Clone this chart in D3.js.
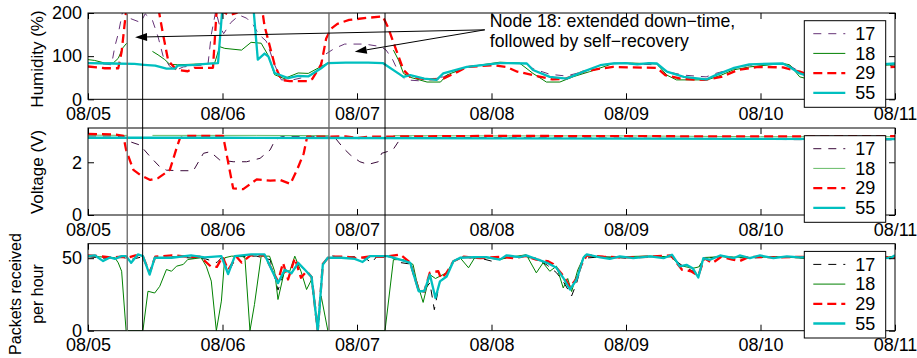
<!DOCTYPE html>
<html>
<head>
<meta charset="utf-8">
<script src="https://cdnjs.cloudflare.com/ajax/libs/d3/7.8.5/d3.min.js"></script>
<style>
  body { margin: 0; background: #fff; }
  svg { display: block; font-family: "Liberation Sans", Arial, sans-serif; }
</style>
</head>
<body>
<svg id="chart" width="917" height="358"></svg>
<script>
// time is in hours since 08/05 00:00
var dayTicks = [0, 24, 48, 72, 96, 120, 144];
var dayLabels = ["08/05", "08/06", "08/07", "08/08", "08/09", "08/10", "08/11"];
var nodeNames = ["17", "18", "29", "55"];
var downTimes = [[7, 9.75], [43, 53]];   // node 18 outages (start, end)

// humidity (%) -- values above 200 run off the top of the axis
var hum17 = [[0,84],[2,83],[4.2,80],[4.8,123],[5.4,152],[6.2,205],[7,195],[7.6,187],[9.4,178],[10.2,198],[11.5,183],[12.5,145],[13.4,100],[14.6,76],[15.8,68],[17,75],[19,78],[21.4,80],[22,150],[22.8,205],[23.5,170],[24.2,152],[25.5,178],[27,195],[28.3,188],[29.5,172],[30.5,150],[31.8,135],[32.5,110],[33.3,80],[34.5,45],[36.5,45],[39.3,53],[41,68],[42.2,103],[44,118],[45.8,128],[49.4,128],[52.3,122],[53.2,114],[54.4,91],[55.5,60],[56.7,45],[59,43],[63.4,52],[67.6,75],[73.5,83],[78.3,83],[79.4,71],[82.4,58],[85.3,54],[88.4,64],[91.4,79],[93.7,84],[97,82],[101.5,80],[103.3,64],[106.3,56],[110.3,52],[112,60],[115.1,71],[118,79],[124,83],[125.2,78],[127,64],[130,55],[134,50],[137,58],[140,72],[144,80]];
var hum18 = [[0,92],[1.2,90],[3,84],[4.5,84],[5.4,95],[6.2,119],[6.9,130],[7,null],[11.4,null],[11.5,111],[12.5,103],[13.7,92],[14.6,81],[16,80],[18,81],[20,82],[22.6,84],[23.5,122],[24.4,118],[27.4,114],[29.1,132],[30.9,130],[32.1,103],[33.3,57],[35,48],[37.5,61],[39.3,60],[41.6,76],[42.8,84],[43,null],[54.4,null],[54.5,114],[55.4,91],[56.3,60],[57.5,51],[60.5,40],[62.9,40],[64,56],[67.6,75],[73.5,86],[77,84],[79.4,60],[81.8,40],[84.2,40],[86.5,52],[89.5,64],[93.7,83],[97,84],[101.5,82],[103.3,56],[105,45],[110.5,45],[113,56],[115.1,68],[118,75],[124,83],[125.2,80],[127,52],[130,42],[134,44],[137,60],[140,78],[144,80]];
var hum29 = [[0,76],[3,72],[5.4,72],[6,110],[6.5,170],[6.9,215],[12.5,215],[13.4,150],[14.3,90],[15.8,68],[17.8,65],[19,73],[22.3,73],[23,215],[24.5,200],[25.3,195],[26.5,200],[27.5,215],[31,215],[31.5,170],[33.3,80],[34.5,45],[36,42],[39.3,42],[40,47],[41.6,80],[42.5,141],[43.4,164],[44.5,175],[46.6,184],[50,189],[52.6,192],[53.5,168],[55,114],[56.3,68],[57.5,52],[60.5,46],[63.4,48],[66,64],[67.6,75],[72.3,79],[74.7,75],[76.6,64],[79.4,56],[82.9,46],[85.3,48],[88.4,64],[91.4,71],[93.7,75],[97,74],[101.5,73],[103,56],[106,47],[110,45],[113,52],[116,68],[119.6,75],[124,74],[127,64],[130,50],[134,48],[137,60],[140,72],[144,75]];
var hum55 = [[0,84],[4,83],[8.3,82],[10,80],[12,78],[14,71],[15.5,71],[16,78],[19,80],[21,82],[23.2,84],[24,215],[29.5,215],[30.3,92],[31.5,106],[32.2,99],[33.3,61],[35.7,49],[37.5,54],[39.3,53],[41.6,72],[42.8,84],[46,85],[50,85],[52.6,84],[56.3,52],[57.5,56],[60,48],[62.2,45],[63.4,60],[67.6,75],[73.5,84],[78.3,83],[79.4,68],[82.4,52],[85.4,48],[88.4,64],[91.4,79],[93.7,83],[96,84],[98,81],[100,84],[101.5,83],[103.3,64],[106.3,52],[110.3,46],[112,56],[115.1,72],[118,81],[124,83],[125.2,75],[127,60],[130,48],[134,46],[137,60],[140,80],[144,83]];

// battery voltage (V)
var volt17 = [[0,3.0],[4,3.0],[6.5,2.95],[7.5,2.78],[9.3,2.65],[11.1,2.21],[12.8,1.83],[14,1.7],[16.4,1.68],[18.8,1.68],[20.6,2.34],[21.8,2.4],[23.5,2.09],[25.9,2.02],[28.3,2.02],[30.7,2.15],[32.5,2.47],[33.4,2.85],[34.5,2.97],[40,2.97],[44,2.95],[45.6,2.53],[46.8,2.28],[48.5,2.02],[50,1.92],[51.8,2.02],[52.4,2.34],[54.4,2.47],[55.6,2.85],[57,2.95],[70,2.93],[90,2.92],[110,2.9],[125,2.86],[144,2.85]];
var volt18 = [[0,3.03],[7,3.02],[7.1,null],[11.4,null],[11.5,3.02],[30,3.02],[43,3.01],[43.1,null],[54.4,null],[54.5,3.01],[72,3.0],[96,3.0],[120,2.97],[144,2.97]];
var volt29 = [[0,3.08],[5,3.05],[6.3,3.0],[6.8,2.47],[8.1,1.71],[9.3,1.52],[11.1,1.33],[12.5,1.4],[14.6,1.71],[15.8,2.53],[16.4,2.91],[17.6,3.0],[24.1,3.0],[24.7,2.34],[25.9,1.01],[27.7,0.98],[30.1,1.35],[32.5,1.3],[34.3,1.33],[36.1,1.18],[37.3,1.71],[38.5,2.34],[39.1,2.97],[46,2.98],[48.2,2.92],[50,2.97],[72,3.0],[96,2.99],[120,2.98],[144,2.99]];
var volt55 = [[0,2.93],[24,2.93],[48,2.92],[72,2.91],[96,2.9],[120,2.89],[144,2.88]];

// packets received per hour
var pkt17 = [[0,51],[3,50],[6,51],[7.5,49],[9.8,51],[11,40],[12,50],[15,51],[19,50],[21,49.5],[23,47],[24,51],[25,40],[26.5,51],[30,51.5],[32.5,49],[33.9,28],[35,40],[36.3,40],[37.5,46],[38.7,42],[39.9,37],[41,0],[41.9,46],[43,52],[45,50.5],[47.5,51],[49.5,50],[50.6,46.8],[51.5,51],[54,51],[55.7,47],[57.5,46],[59,27],[60,28],[61,33],[61.8,14.5],[62.8,34],[64,39],[65.2,48],[67,50.5],[70,50],[72,48],[73.5,49.5],[76,51],[78,50.5],[80,50],[82,45],[83.6,40],[84.8,34],[86.3,24],[87.2,33],[88.4,50],[92,51],[96,50],[100,51],[104,51],[106,45],[107.5,42],[108.5,40],[110,50],[113,51],[118,50],[123,51],[128,50],[134,51],[140,50],[144,51]];
var pkt18 = [[0,51.4],[2,51],[4.8,50.3],[5.4,46.8],[6,41],[6.8,0],[9.8,0],[10.7,27.2],[11.9,26],[12.8,30.6],[14,42.2],[14.9,41],[15.8,44.5],[17,45.7],[17.8,49.1],[20.2,50.3],[21.1,44.5],[22,34.2],[22.9,0],[23.8,20.4],[24.4,50.3],[25.6,51.4],[27.4,51.4],[28,50.3],[28.9,0],[29.7,18],[30.9,51.4],[32.4,51.4],[33.3,41],[33.9,21.5],[35.1,42],[36,41],[36.9,51.4],[38,41],[39,28.4],[39.9,35.3],[41,0],[41.6,24],[42.8,0],[53,0],[54.5,49],[56.3,49],[58,45.7],[58.6,35],[59.8,19.5],[61,38.7],[62,36],[64,40],[65.2,47.9],[66.4,50.3],[67.9,43.4],[69,50.3],[71.1,50.3],[73.5,49],[74.7,50.3],[78.2,52.4],[80,39.9],[81.2,46.8],[82.4,41],[83.6,44.5],[84.8,29.5],[85.6,36],[86.3,27],[87.4,42],[88.6,52],[91.4,50.5],[95,51],[100,51.5],[104,51],[105.6,45],[107.9,43],[109,44],[110,50.5],[113,51],[118,50.5],[123,51],[128,50],[134,51],[140,50.5],[144,51]];
var pkt29 = [[0,52],[2,51.4],[4,50.5],[6,51],[7.1,50.3],[8.5,52],[9.8,51],[11,40],[12,51],[15,52],[18,51],[20,51],[22,44],[23,44],[24,51],[25,42],[26.5,51],[27.4,47],[29,52],[31.5,52],[33.9,34],[34.8,46.8],[35.7,35.3],[36.9,50],[38,36.5],[39,41],[39.9,37],[41,0],[41.9,46],[43,51],[46,51],[48,50],[50,51],[53,51],[55.7,52.6],[57.5,47],[59,28],[60,27],[61,40],[62.5,41],[63,36],[64,40],[65.2,47.9],[67,51],[70,50],[73.5,51],[76,50],[78,51.5],[80,49],[82,48],[83,46],[84.8,38],[86,30],[87.2,36],[88,45],[89,52],[92,51],[96,50.5],[100,51],[104,52],[106,42],[107.6,41],[108.9,38],[110,50],[111.4,46.6],[113,51],[115,49],[116.3,48],[118,51],[123,50.5],[128,51],[134,50],[140,51],[144,50.5]];
var pkt55 = [[0,51.4],[1.2,52],[2.7,48],[3.9,50.5],[4.8,49.5],[6,51.4],[6.8,51.4],[7.7,46.8],[8.9,52.6],[9.8,51.4],[11,38.7],[11.9,50.3],[14.9,50.3],[18.4,52],[20.8,50.5],[23.8,51.4],[25,39],[26.2,51.4],[29.1,52.6],[31.5,52.6],[33.9,32.8],[35.1,42],[36.3,39.6],[37.5,46.8],[38.7,42],[39.9,37],[41,0],[41.9,45.6],[42.8,50.3],[45.2,50.3],[47.6,49.5],[49,47.4],[50.3,51.4],[53.5,51.4],[55.7,49],[57.5,46.8],[59,27.2],[60,27.2],[61,38.7],[62,22.6],[62.8,34],[64,37.4],[65.2,47.9],[66.4,50.3],[68.8,50.8],[71.1,50.8],[73.5,49],[74.7,52],[77,50.8],[78.2,52],[79.4,50.3],[81.9,46.8],[83.6,43.4],[84.8,36.5],[86,28.4],[87.2,35.3],[88.4,50.3],[89,52.6],[91.4,50.5],[93.1,49.6],[94.9,51.2],[97.3,50],[100.3,51.2],[102.7,50],[104.2,52.4],[105.6,44.3],[106.8,45.4],[107.9,43.1],[108.9,36.7],[109.8,50],[111,48.9],[112.8,51.9],[115.2,50],[116.3,51.9],[118.1,50],[119.9,51.9],[122.3,50],[124.7,51.2],[127,50.5],[130,51],[134,50],[138,51],[141,50.5],[143.1,50],[144,52]];

// annotation: text anchor, arrow tail and arrow tips in (hour, humidity)
var noteLines = ["Node 18: extended down\u2212time,", "followed by self\u2212recovery"];
var noteAt = [71.7, 168];
var arrowTail = [70.8, 161];
var arrowTips = [[8.4, 144], [47.6, 110]];

var svg = d3.select("#chart");
var x = d3.scaleLinear().domain([0, 144]).range([88, 895]);

var panels = [
  { top: 13, bottom: 99.3, max: 200, yTicks: [0, 100, 200], data: [hum17, hum18, hum29, hum55],
    colors: ["#663377", "#008000", "#ff0000", "#00bfbf"], label: ["Humidity (%)"], labelY: 59, labelSize: 17 },
  { top: 128, bottom: 215, max: 3.3, yTicks: [0, 2], data: [volt17, volt18, volt29, volt55],
    colors: ["#3a0a3a", "#66bb66", "#ff0000", "#00bfbf"], label: ["Voltage (V)"], labelY: 172, labelSize: 17 },
  { top: 243.7, bottom: 330.7, max: 60, yTicks: [0, 50], data: [pkt17, pkt18, pkt29, pkt55],
    colors: ["#000000", "#008000", "#ff0000", "#00bfbf"], label: ["Packets received", "per hour"], labelY: 294, labelSize: 16 }
];
var widths = [1, 1, 2.3, 2.3];
var dashes = ["8,7", null, "9,5", null];

var defs = svg.append("defs");
var yScales = [];

panels.forEach(function (p, pi) {
  var y = d3.scaleLinear().domain([0, p.max]).range([p.bottom, p.top]);
  yScales.push(y);
  var g = svg.append("g");

  defs.append("clipPath").attr("id", "clip" + pi)
    .append("rect").attr("x", 88).attr("y", p.top).attr("width", 807).attr("height", p.bottom - p.top);

  var line = d3.line()
    .defined(function (d) { return d[1] !== null; })
    .x(function (d) { return x(d[0]); })
    .y(function (d) { return y(d[1]); });

  g.append("g").attr("clip-path", "url(#clip" + pi + ")")
    .selectAll("path")
    .data(p.data)
    .enter()
    .append("path")
    .attr("d", line)
    .attr("fill", "none")
    .attr("stroke", function (d, i) { return p.colors[i]; })
    .attr("stroke-width", function (d, i) { return widths[i]; })
    .attr("stroke-dasharray", function (d, i) { return dashes[i]; })
    .attr("stroke-linejoin", "round");

  // axes, ticks pointing inwards on all four sides
  g.append("g").attr("transform", "translate(0," + p.bottom + ")")
    .call(d3.axisBottom(x).tickValues(dayTicks).tickFormat(function (d, i) { return dayLabels[i]; })
      .tickSizeInner(-6).tickSizeOuter(0).tickPadding(8));
  g.append("g").attr("transform", "translate(0," + p.top + ")")
    .call(d3.axisTop(x).tickValues(dayTicks).tickFormat("").tickSizeInner(-6).tickSizeOuter(0));
  g.append("g").attr("transform", "translate(88,0)")
    .call(d3.axisLeft(y).tickValues(p.yTicks).tickFormat(d3.format("d"))
      .tickSizeInner(-6).tickSizeOuter(0).tickPadding(6));
  g.append("g").attr("transform", "translate(895,0)")
    .call(d3.axisRight(y).tickValues(p.yTicks).tickFormat("").tickSizeInner(-6).tickSizeOuter(0));
  g.selectAll(".domain").remove();
  g.selectAll(".tick line").attr("stroke", "#000");
  g.selectAll(".tick text").attr("font-size", "18px").attr("font-family", "Liberation Sans, Arial, sans-serif").attr("fill", "#000");

  g.append("rect")
    .attr("x", 88).attr("y", p.top).attr("width", 807).attr("height", p.bottom - p.top)
    .attr("fill", "none").attr("stroke", "#000").attr("stroke-width", 1);

  // y label
  var lab = g.append("text")
    .attr("transform", "translate(" + (p.label.length > 1 ? 21 : 43) + "," + p.labelY + ") rotate(-90)")
    .attr("text-anchor", "middle")
    .attr("font-size", p.labelSize + "px");
  p.label.forEach(function (t, i) {
    lab.append("tspan").attr("x", 0).attr("dy", i === 0 ? 0 : 22).text(t);
  });
});

// node 18 down-time markers across all panels
downTimes.forEach(function (dt) {
  svg.append("line")
    .attr("x1", x(dt[0])).attr("x2", x(dt[0]))
    .attr("y1", panels[0].top).attr("y2", panels[2].bottom)
    .attr("stroke", "#666").attr("stroke-width", 1.3);
  svg.append("line")
    .attr("x1", x(dt[1])).attr("x2", x(dt[1]))
    .attr("y1", panels[0].top).attr("y2", panels[2].bottom)
    .attr("stroke", "#000").attr("stroke-width", 1);
});

// annotation with arrows in the humidity panel
var yh = yScales[0];
var tx = x(arrowTail[0]), ty = yh(arrowTail[1]);
arrowTips.forEach(function (tip) {
  var px = x(tip[0]), py = yh(tip[1]);
  var ang = Math.atan2(py - ty, px - tx);
  var len = 12, hw = 4;
  var bx = px - len * Math.cos(ang), by = py - len * Math.sin(ang);
  svg.append("line")
    .attr("x1", tx).attr("y1", ty).attr("x2", bx).attr("y2", by)
    .attr("stroke", "#000").attr("stroke-width", 1);
  var pts = [
    [px, py],
    [bx + hw * Math.sin(ang), by - hw * Math.cos(ang)],
    [bx - hw * Math.sin(ang), by + hw * Math.cos(ang)]
  ];
  svg.append("polygon").attr("points", pts.map(function (q) { return q.join(","); }).join(" "))
    .attr("fill", "#000");
});
var note = svg.append("text")
  .attr("x", x(noteAt[0])).attr("y", yh(noteAt[1]))
  .attr("font-size", "17.7px");
noteLines.forEach(function (t, i) {
  note.append("tspan").attr("x", x(noteAt[0])).attr("dy", i === 0 ? 0 : 20).text(t);
});

// legends
panels.forEach(function (p) {
  var lg = svg.append("g").attr("transform", "translate(804.3," + (p.top + 7.7) + ")");
  lg.append("rect").attr("width", 81.4).attr("height", 86.6)
    .attr("fill", "#fff").attr("stroke", "#000").attr("stroke-width", 1);
  nodeNames.forEach(function (n, i) {
    var ry = 13 + i * 19.7;
    lg.append("line")
      .attr("x1", 9).attr("x2", 41).attr("y1", ry).attr("y2", ry)
      .attr("stroke", p.colors[i]).attr("stroke-width", widths[i])
      .attr("stroke-dasharray", dashes[i]);
    lg.append("text").attr("x", 51).attr("y", ry).attr("dy", "0.35em")
      .attr("font-size", "18px").text(n);
  });
});
</script>
</body>
</html>
